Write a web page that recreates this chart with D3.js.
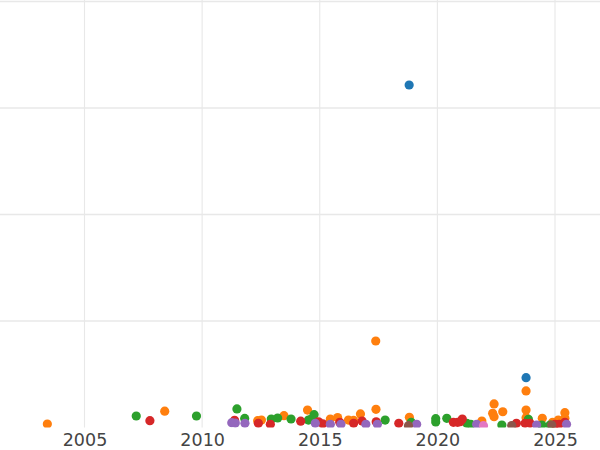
<!DOCTYPE html>
<html>
<head>
<meta charset="utf-8">
<script src="https://cdn.jsdelivr.net/npm/d3@7"></script>
<style>
	body { margin: 0; background: #fff; }
	svg { display: block; }
</style>
</head>
<body>
<script>
// [year, value] pairs for each series
var blueSeries = [[2018.80, 321.6], [2023.77, 46.8]];
var orangeSeries = [
	[2003.42, 3.3], [2008.41, 15.3], [2012.36, 6.4], [2012.52, 7.0], [2013.48, 11.1],
	[2014.48, 16.4], [2015.45, 8.0], [2015.76, 9.4], [2016.22, 7.0], [2016.44, 6.6],
	[2016.73, 12.7], [2017.39, 17.1], [2017.38, 81.2], [2018.81, 9.6], [2021.89, 6.1],
	[2022.41, 22.1], [2022.35, 13.3], [2022.41, 10.1], [2022.78, 14.8], [2023.77, 34.3],
	[2023.77, 16.4], [2023.77, 9.2], [2024.46, 8.6], [2024.90, 4.9], [2025.14, 7.0],
	[2025.42, 13.9], [2025.42, 8.6]
];
var greenSeries = [
	[2007.20, 10.8], [2009.76, 10.8], [2011.48, 17.4], [2011.81, 8.5], [2012.94, 8.0],
	[2013.21, 8.9], [2013.78, 8.0], [2014.52, 7.0], [2014.64, 8.0], [2014.76, 12.0],
	[2017.78, 7.0], [2018.89, 4.9], [2019.93, 8.3], [2019.93, 5.2], [2020.40, 8.6],
	[2021.25, 3.9], [2021.42, 3.0], [2022.74, 2.3], [2023.87, 7.7], [2024.44, 2.3],
	[2024.79, 2.3]
];
var redSeries = [
	[2007.78, 6.4], [2011.38, 6.8], [2012.39, 3.9], [2012.90, 3.0], [2014.19, 5.9],
	[2014.95, 5.4], [2015.13, 3.5], [2015.85, 4.9], [2016.44, 3.9], [2016.80, 6.1],
	[2017.40, 5.4], [2018.36, 3.9], [2020.68, 4.9], [2020.86, 4.9], [2020.97, 5.4],
	[2021.06, 8.0], [2023.36, 3.9], [2023.73, 3.9], [2023.94, 3.9], [2025.00, 3.0],
	[2025.18, 3.0], [2025.42, 4.9]
];
var purpleSeries = [
	[2011.26, 4.5], [2011.41, 4.2], [2011.82, 3.9], [2014.81, 3.9], [2015.45, 3.0],
	[2015.90, 3.0], [2016.96, 3.0], [2017.45, 3.0], [2019.12, 3.0], [2021.67, 3.0],
	[2024.22, 2.3], [2025.49, 3.0]
];
var brownSeries = [[2018.77, 1.7], [2023.16, 1.9], [2024.86, 2.3]];
var pinkSeries = [[2021.96, 1.7]];

var seriesList = [blueSeries, orangeSeries, greenSeries, redSeries, purpleSeries, brownSeries, pinkSeries];
var seriesColors = ["#1f77b4", "#ff7f0e", "#2ca02c", "#d62728", "#9467bd", "#8c564b", "#e377c2"];

var xTicks = [2005, 2010, 2015, 2020, 2025];
var yTicks = [100, 200, 300, 400];

var width = 600, height = 450;

var svg = d3.select("body").append("svg")
	.attr("width", width)
	.attr("height", height);

var x = d3.scaleLinear().domain([2005, 2025]).range([84.5, 555]);
var y = d3.scaleLinear().domain([0, 400]).range([427.5, 1.5]);

svg.append("clipPath").attr("id", "plotClip")
	.append("rect")
	.attr("x", 0).attr("y", 0)
	.attr("width", width).attr("height", 427.5);

// grid lines
svg.append("g").selectAll("line.hgrid").data(yTicks).enter().append("line")
	.classed("hgrid", 1)
	.attr("x1", 0).attr("x2", width)
	.attr("y1", function(d) { return y(d); })
	.attr("y2", function(d) { return y(d); })
	.attr("stroke", "#e8e8e8")
	.attr("stroke-width", 1.3);

svg.append("g").selectAll("line.vgrid").data(xTicks).enter().append("line")
	.classed("vgrid", 1)
	.attr("x1", function(d) { return x(d); })
	.attr("x2", function(d) { return x(d); })
	.attr("y1", 0).attr("y2", 427.5)
	.attr("stroke", "#e8e8e8")
	.attr("stroke-width", 1.1);

// x axis labels
var xAxis = d3.axisBottom(x).tickValues(xTicks).tickFormat(d3.format("d")).tickSize(0).tickPadding(0);
var axisG = svg.append("g")
	.attr("transform", "translate(0,434)")
	.call(xAxis);
axisG.select(".domain").remove();
axisG.selectAll("text")
	.attr("fill", "#444")
	.attr("font-family", "DejaVu Sans, sans-serif")
	.attr("font-size", "17.5px")
	.attr("dy", "0.71em");

// points
var pointsG = svg.append("g").attr("clip-path", "url(#plotClip)");
seriesList.forEach(function(series, i)
{
	pointsG.append("g").selectAll("circle").data(series).enter().append("circle")
		.attr("cx", function(d) { return x(d[0]); })
		.attr("cy", function(d) { return y(d[1]); })
		.attr("r", 4.6)
		.attr("fill", seriesColors[i]);
});
</script>
</body>
</html>
